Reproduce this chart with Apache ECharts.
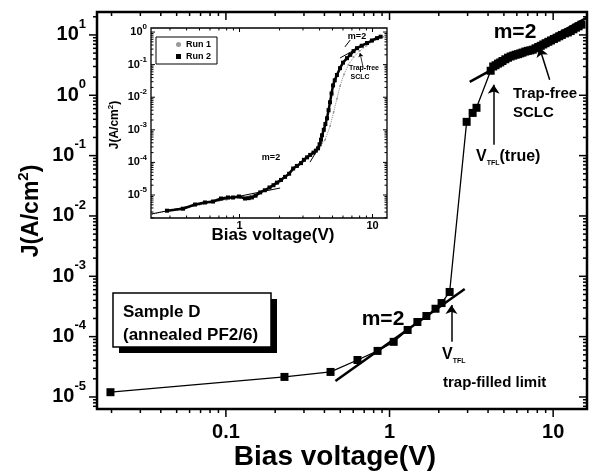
<!DOCTYPE html>
<html>
<head>
<meta charset="utf-8">
<script src="https://cdn.jsdelivr.net/npm/echarts@6/dist/echarts.min.js"></script>
<style>
html, body { margin: 0; padding: 0; background: #fff; }
#main { width: 598px; height: 475px; }
</style>
</head>
<body>
<div id="main"></div>
<script>
// main plot: sample D, J-V (log-log)
const mainV = [0.0197, 0.228, 0.436, 0.637, 0.845, 1.06, 1.29, 1.48, 1.68, 1.91, 2.08, 2.33,
  2.96, 3.22, 3.40,
  4.15, 4.3, 4.45, 4.6, 4.75, 4.9, 5.1, 5.3, 5.5, 5.7, 5.9, 6.1, 6.3, 6.5, 6.75, 7.0, 7.25, 7.5,
  7.8, 8.1, 8.4, 8.7, 9.0, 9.35, 9.7, 10.1, 10.5, 10.9, 11.3, 11.8, 12.3, 12.8, 13.3, 13.8, 14.3, 14.9]
const mainJ = [1.2e-5, 2.15e-5, 2.6e-5, 4.1e-5, 5.8e-5, 8.2e-5, 1.29e-4, 1.75e-4, 2.2e-4, 2.9e-4, 3.6e-4, 5.5e-4,
  0.363, 0.51, 0.62,
  2.55, 3.0, 3.15, 3.35, 3.5, 3.7, 3.95, 4.2, 4.4, 4.55, 4.7, 4.8, 4.95, 5.1, 5.3, 5.45, 5.55, 5.7,
  6.0, 6.3, 6.6, 6.95, 7.3, 7.7, 8.1, 8.55, 9.0, 9.5, 10.0, 10.6, 11.0, 11.6, 12.4, 13.2, 13.9, 14.8]
// fitted lines (m=2 below V_TFL, trap-free SCLC above)
const fitLow = [[0.467, 1.84e-5], [2.88, 6.18e-4]]
const fitHigh = [[3.09, 1.67], [16.1, 19.3]]
// arrows: [from, to]
const mainArrows = [
  [[9.52, 1.81], [8.26, 6.14]],
  [[4.33, 0.151], [4.33, 1.49]],
  [[2.39, 8.2e-5], [2.39, 3.36e-4]]
]

// inset: two runs
const run1V = [0.22, 0.3, 0.4, 0.5, 0.6, 0.7, 0.8, 0.9, 1.0, 1.2, 1.4, 1.7, 2.0, 2.5, 3.0, 3.5, 4.0, 4.4,
  4.8, 5.1, 5.4, 5.7, 6.1, 6.6, 7.2, 8.0, 9.0, 10.0, 11.0, 12.0]
const run1J = [2.6e-6, 3.3e-6, 4.2e-6, 5.0e-6, 5.8e-6, 6.6e-6, 7.2e-6, 7.8e-6, 8.3e-6, 9.5e-6, 1.15e-5, 1.6e-5,
  2.4e-5, 5.5e-5, 1.1e-4, 1.8e-4, 2.8e-4, 5.0e-4, 1.3e-3, 3.5e-3, 9e-3, 0.022, 0.05, 0.1, 0.17, 0.26, 0.38, 0.5, 0.62, 0.72]
const run2V = [0.285, 0.376, 0.463, 0.55, 0.632, 0.726, 0.819, 0.894, 0.99, 1.10, 1.17, 1.24, 1.32, 1.43, 1.55,
  1.68, 1.8, 1.91, 2.05, 2.2, 2.36, 2.53, 2.7, 2.9, 3.05, 3.22, 3.4, 3.6, 3.75, 3.89, 4.0, 4.1, 4.17, 4.3,
  4.42, 4.55, 4.67, 4.79, 4.92, 5.05, 5.2, 5.4, 5.7, 6.0, 6.43, 6.8, 7.2, 7.64, 8.3, 9.09, 9.9, 10.8, 11.5]
const run2J = [3.3e-6, 3.8e-6, 5.1e-6, 5.9e-6, 6.3e-6, 7.8e-6, 8.4e-6, 8.4e-6, 9.0e-6, 7.8e-6, 8.0e-6, 8.4e-6, 9.5e-6,
  1.2e-5, 1.4e-5, 1.7e-5, 2.0e-5, 2.4e-5, 2.9e-5, 3.6e-5, 4.5e-5, 6.5e-5, 7.8e-5, 9.5e-5, 1.2e-4, 1.43e-4, 1.7e-4,
  2.0e-4, 2.3e-4, 2.7e-4, 3.6e-4, 5.0e-4, 6.8e-4, 1.0e-3, 1.5e-3, 2.26e-3, 4.0e-3, 7.0e-3, 1.3e-2, 2.3e-2, 3.3e-2,
  4.8e-2, 7.8e-2, 0.115, 0.158, 0.2, 0.26, 0.32, 0.38, 0.46, 0.55, 0.65, 0.72]
const insetFits = [
  [[0.216, 2.6e-6], [2.02, 1.64e-5]],
  [[3.39, 1.02e-4], [4.17, 4.2e-4]],
  [[5.7, 0.16], [11.0, 0.70]],
  [[6.2, 0.35], [6.8, 0.57]]
]
const insetArrow = [[8.49, 0.084], [8.05, 0.227]]

// axis ranges
const mainX = [0.0163, 16.1]
const mainY = [6.32e-6, 24.0]
const insetX = [0.216, 12.85]
const insetY = [1.97e-6, 1.33]

const FONT = 'Liberation Sans, Arial, sans-serif'

function isPow (v) {
  const e = Math.log10(v)
  return Math.abs(e - Math.round(e)) < 1e-6
}
function xLabel (v) {
  if (!isPow(v)) return ''
  const e = Math.round(Math.log10(v))
  return String(+Math.pow(10, e).toFixed(Math.max(0, -e)))
}
function yLabel (v) {
  if (!isPow(v)) return ''
  return '{b|10}{s|' + Math.round(Math.log10(v)) + '}'
}

// ticks at 1..9 x 10^d for both axes of a grid
function buildTicks (xr, yr) {
  const out = []
  for (let d = -7; d <= 2; d++) {
    for (let m = 1; m <= 9; m++) {
      const v = m * Math.pow(10, d)
      if (v >= xr[0] && v <= xr[1]) out.push([v, yr[0], 0, m === 1 ? 1 : 0])
      if (v >= yr[0] && v <= yr[1]) out.push([xr[0], v, 1, m === 1 ? 1 : 0])
    }
  }
  return out
}
function tickRenderer (bigLen, smallLen, width, outward) {
  return function (params, api) {
    const cs = params.coordSys
    const len = api.value(3) ? bigLen : smallLen
    const st = { stroke: '#000', lineWidth: width }
    const p = api.coord([api.value(0), api.value(1)])
    const kids = []
    if (api.value(2) === 0) {
      const b = cs.y + cs.height
      kids.push({ type: 'line', shape: { x1: p[0], y1: b, x2: p[0], y2: outward ? b + len : b - len }, style: st })
      kids.push({ type: 'line', shape: { x1: p[0], y1: cs.y, x2: p[0], y2: cs.y + len }, style: st })
    } else {
      const r = cs.x + cs.width
      kids.push({ type: 'line', shape: { x1: cs.x, y1: p[1], x2: outward ? cs.x - len : cs.x + len, y2: p[1] }, style: st })
      kids.push({ type: 'line', shape: { x1: r, y1: p[1], x2: r - len, y2: p[1] }, style: st })
    }
    return { type: 'group', children: kids }
  }
}

function zip (xs, ys) { return xs.map((x, i) => [x, ys[i]]) }

function txt (x, y, text, size, opts) {
  return Object.assign({
    type: 'text',
    x: x,
    y: y,
    z: 100,
    style: Object.assign({
      text: text,
      fill: '#000',
      fontSize: size,
      fontWeight: 'bold',
      fontFamily: FONT,
      align: 'left',
      verticalAlign: 'middle'
    }, (opts && opts.style) || {})
  }, (opts && opts.el) || {})
}

const subRich = {
  v: { fontSize: 16, fontWeight: 'bold', fontFamily: FONT, lineHeight: 18 },
  s: { fontSize: 7, fontWeight: 'bold', fontFamily: FONT, lineHeight: 8, padding: [12, 0, 0, 0] }
}

const chart = echarts.init(document.getElementById('main'))

const series = [
  {
    name: 'data',
    type: 'line',
    xAxisIndex: 0,
    yAxisIndex: 0,
    data: zip(mainV, mainJ),
    symbol: 'rect',
    symbolSize: 8,
    itemStyle: { color: '#000' },
    lineStyle: { color: '#000', width: 1.3 },
    z: 3
  },
  {
    name: 'fitLow',
    type: 'line',
    xAxisIndex: 0,
    yAxisIndex: 0,
    data: fitLow,
    showSymbol: false,
    lineStyle: { color: '#000', width: 2.5 },
    markLine: {
      silent: true,
      symbol: ['none', 'arrow'],
      symbolSize: 9,
      label: { show: false },
      lineStyle: { color: '#000', width: 1.5, type: 'solid' },
      data: mainArrows.map(a => [{ coord: a[0] }, { coord: a[1] }])
    }
  },
  {
    name: 'fitHigh',
    type: 'line',
    xAxisIndex: 0,
    yAxisIndex: 0,
    data: fitHigh,
    showSymbol: false,
    lineStyle: { color: '#000', width: 2.5 }
  },
  {
    name: 'Run 1',
    type: 'line',
    xAxisIndex: 1,
    yAxisIndex: 1,
    z: 10,
    data: zip(run1V, run1J),
    symbol: 'circle',
    symbolSize: 2,
    itemStyle: { color: '#999' },
    lineStyle: { color: '#888', width: 1, type: 'dotted' }
  },
  {
    name: 'Run 2',
    type: 'line',
    xAxisIndex: 1,
    yAxisIndex: 1,
    z: 11,
    data: zip(run2V, run2J),
    symbol: 'rect',
    symbolSize: 4,
    itemStyle: { color: '#000' },
    lineStyle: { color: '#000', width: 2.5 },
    markLine: {
      silent: true,
      symbol: ['none', 'arrow'],
      symbolSize: 4,
      label: { show: false },
      lineStyle: { color: '#000', width: 0.8, type: 'solid' },
      data: [[{ coord: insetArrow[0] }, { coord: insetArrow[1] }]]
    }
  },
  {
    type: 'custom',
    xAxisIndex: 0,
    yAxisIndex: 0,
    silent: true,
    data: buildTicks(mainX, mainY),
    renderItem: tickRenderer(8, 4, 1.5, true)
  },
  {
    type: 'custom',
    xAxisIndex: 1,
    yAxisIndex: 1,
    z: 10,
    silent: true,
    data: buildTicks(insetX, insetY),
    renderItem: tickRenderer(4, 2.5, 1, false)
  }
]
insetFits.forEach((seg, i) => {
  series.push({
    name: 'fit' + i,
    type: 'line',
    xAxisIndex: 1,
    yAxisIndex: 1,
    z: 12,
    data: seg,
    showSymbol: false,
    lineStyle: { color: '#000', width: 1 }
  })
})

const option = {
  animation: false,
  backgroundColor: '#fff',
  textStyle: { fontFamily: FONT },
  grid: [
    { left: 97, top: 12, width: 490, height: 397, show: true, borderColor: '#000', borderWidth: 2.5, backgroundColor: 'transparent' },
    { left: 151, top: 28, width: 236, height: 190, show: true, borderColor: '#000', borderWidth: 1.3, backgroundColor: '#fff', z: 5 }
  ],
  xAxis: [
    {
      type: 'log', gridIndex: 0, min: mainX[0], max: mainX[1],
      axisLine: { show: false }, axisTick: { show: false }, splitLine: { show: false },
      axisLabel: { formatter: xLabel, margin: 13, color: '#000', fontSize: 20, fontWeight: 'bold', fontFamily: FONT }
    },
    {
      type: 'log', gridIndex: 1, min: insetX[0], max: insetX[1], z: 10,
      axisLine: { show: false }, axisTick: { show: false }, splitLine: { show: false },
      axisLabel: { formatter: xLabel, margin: 2, color: '#000', fontSize: 11, fontWeight: 'bold', fontFamily: FONT }
    }
  ],
  yAxis: [
    {
      type: 'log', gridIndex: 0, min: mainY[0], max: mainY[1],
      axisLine: { show: false }, axisTick: { show: false }, splitLine: { show: false },
      axisLabel: {
        formatter: yLabel, margin: 11, color: '#000',
        rich: {
          b: { fontSize: 20, fontWeight: 'bold', fontFamily: FONT, lineHeight: 22, color: '#000' },
          s: { fontSize: 13, fontWeight: 'bold', fontFamily: FONT, lineHeight: 14, padding: [0, 0, 22, 0], color: '#000' }
        }
      }
    },
    {
      type: 'log', gridIndex: 1, min: insetY[0], max: insetY[1], z: 10,
      axisLine: { show: false }, axisTick: { show: false }, splitLine: { show: false },
      axisLabel: {
        formatter: yLabel, margin: 4, color: '#000',
        rich: {
          b: { fontSize: 11, fontWeight: 'bold', fontFamily: FONT, lineHeight: 12, color: '#000' },
          s: { fontSize: 8, fontWeight: 'bold', fontFamily: FONT, lineHeight: 8, padding: [0, 0, 10, 0], color: '#000' }
        }
      }
    }
  ],
  legend: {
    data: [
      { name: 'Run 1', icon: 'circle', itemStyle: { color: '#999' } },
      { name: 'Run 2', icon: 'rect', itemStyle: { color: '#000' } }
    ],
    orient: 'vertical',
    left: 156,
    top: 37,
    padding: [3, 6, 3, 20],
    itemWidth: 5,
    itemHeight: 5,
    itemGap: 3,
    borderColor: '#000',
    borderWidth: 1,
    backgroundColor: '#fff',
    z: 20,
    textStyle: { fontSize: 9, fontWeight: 'bold', fontFamily: FONT, color: '#000' }
  },
  graphic: [
    // axis titles
    txt(335, 457, 'Bias voltage(V)', 28, { style: { align: 'center' } }),
    txt(32, 211, 'J(A/cm{s|2})', 23, {
      style: { align: 'center', rich: { s: { fontSize: 15, fontWeight: 'bold', fontFamily: FONT, lineHeight: 14, padding: [0, 0, 16, 0] } } },
      el: { rotation: Math.PI / 2 }
    }),
    // sample box with shadow
    { type: 'rect', z: 90, shape: { x: 119, y: 299, width: 158, height: 54 }, style: { fill: '#000' } },
    { type: 'rect', z: 91, shape: { x: 113, y: 293, width: 158, height: 54 }, style: { fill: '#fff', stroke: '#000', lineWidth: 1.5 } },
    txt(123, 312, 'Sample D', 17),
    txt(123, 335, '(annealed PF2/6)', 17),
    // annotations in main plot
    txt(383, 319, 'm=2', 21, { style: { align: 'center' } }),
    txt(515, 32, 'm=2', 21, { style: { align: 'center' } }),
    txt(513, 94, 'Trap-free', 15),
    txt(513, 113, 'SCLC', 15),
    txt(476, 157, '{v|V}{s|TFL}{v|(true)}', 16, { style: { rich: subRich } }),
    txt(442, 355, '{v|V}{s|TFL}', 16, { style: { rich: subRich } }),
    txt(443, 383, 'trap-filled limit', 15),
    // inset texts
    txt(273, 235, 'Bias voltage(V)', 17, { style: { align: 'center' } }),
    txt(115, 125, 'J(A/cm{s|2})', 12, {
      style: { align: 'center', rich: { s: { fontSize: 8, fontWeight: 'bold', fontFamily: FONT, lineHeight: 8, padding: [0, 0, 8, 0] } } },
      el: { rotation: Math.PI / 2 }
    }),
    txt(271, 158, 'm=2', 9, { style: { align: 'center' } }),
    txt(357, 37, 'm=2', 9, { style: { align: 'center' } }),
    txt(364, 68, 'Trap-free', 7, { style: { align: 'center' } }),
    txt(360, 77, 'SCLC', 7, { style: { align: 'center' } })
  ],
  series: series
}

chart.setOption(option)
</script>
</body>
</html>
